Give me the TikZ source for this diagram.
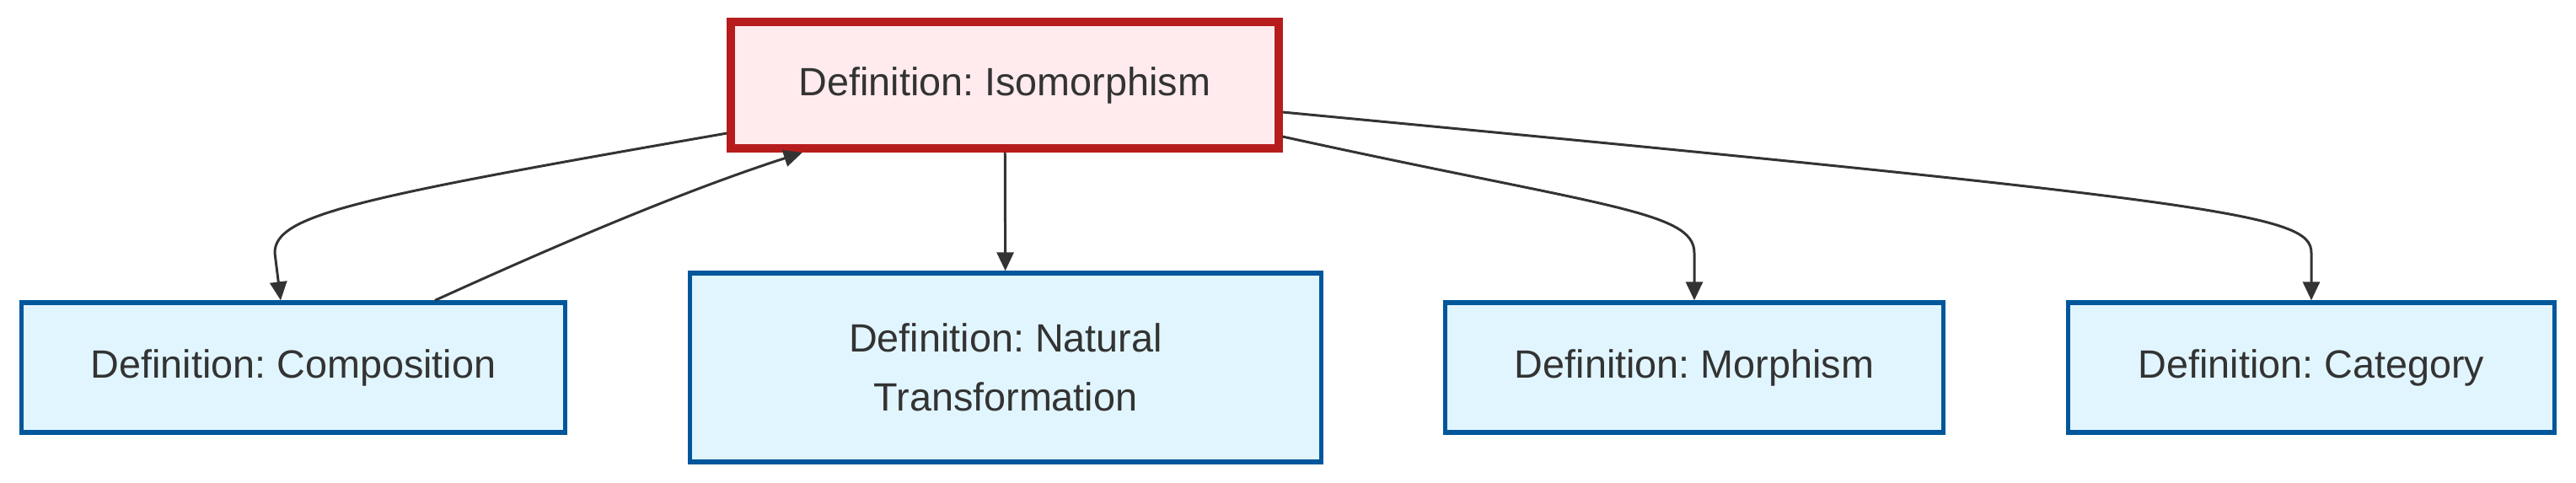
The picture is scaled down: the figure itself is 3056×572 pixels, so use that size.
\documentclass[tikz,border=0pt]{standalone}
\usepackage{fontspec}
\setmainfont{Liberation Sans}
\frenchspacing
\usetikzlibrary{arrows.meta,positioning}
\definecolor{isofill}{HTML}{FFEBEE}
\definecolor{isoline}{HTML}{B71C1C}
\definecolor{deffill}{HTML}{E1F5FE}
\definecolor{defline}{HTML}{01579B}
\definecolor{edgegray}{HTML}{333333}
\begin{document}
\begin{tikzpicture}[x=0.01cm, y=-0.01cm, every node/.style={align=center}]
    \tikzset{
      defbox/.style={
        draw=defline,
        fill=deffill,
        line width=1.5pt,
        text=edgegray,
        font=\fontsize{13.3}{20}\selectfont,
        minimum height=1.54cm,
        inner sep=4pt
      },
      isobox/.style={
        defbox,
        draw=isoline,
        fill=isofill,
        line width=2.8pt,
        minimum width=6.49cm,
        minimum height=1.5cm
      },
      link/.style={
        draw=edgegray,
        line width=0.85pt,
        -{Triangle[width=0.2cm,length=0.22cm]}
      }
    }
    \useasboundingbox (0,0) rectangle (3056,572);
    \node[isobox] (iso) at (1192,101) {Definition: Isomorphism};
    \node[defbox, minimum width=6.45cm] (comp) at (348,436) {Definition: Composition};
    \node[defbox, minimum width=7.48cm, minimum height=2.24cm] (nat) at (1193,436) {Definition: Natural\\Transformation};
    \node[defbox, minimum width=5.91cm] (morph) at (2010,436) {Definition: Morphism};
    \node[defbox, minimum width=5.77cm] (cat) at (2742,436) {Definition: Category};
    % connectors
    \draw[link] ([yshift=-0.57cm]iso.west) .. controls (420,235) and (326,255) .. (326,300) -- ([xshift=-0.15cm]comp.north);
    \draw[link] ([xshift=1.68cm]comp.north) .. controls (640,300) and (800,230) .. ([xshift=-2.4cm]iso.south);
    \draw[link] (iso) -- (nat);
    \draw[link] ([yshift=-0.61cm]iso.east) .. controls (1900,245) and (2010,250) .. (2010,300) -- (morph.north);
    \draw[link] ([yshift=-0.32cm]iso.east) .. controls (2650,240) and (2742,255) .. (2742,300) -- (cat.north);
\end{tikzpicture}
\end{document}
